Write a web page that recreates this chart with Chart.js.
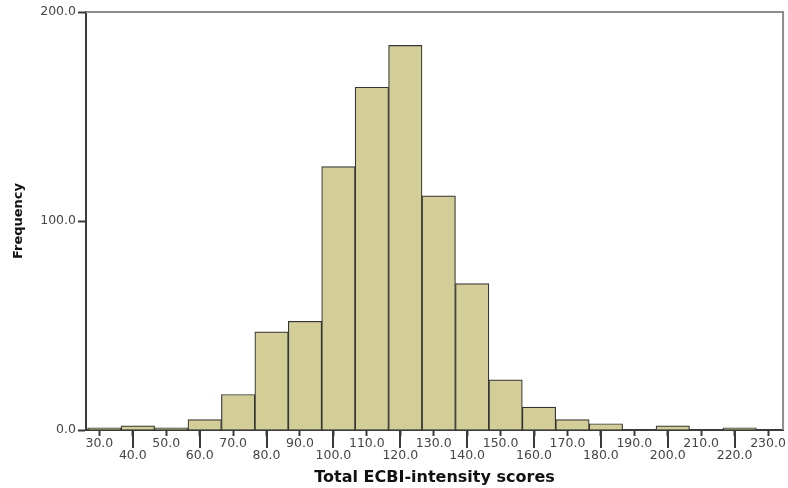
<!DOCTYPE html>
<html>
<head>
<meta charset="utf-8">
<script src="https://cdn.jsdelivr.net/npm/chart.js@4/dist/chart.umd.min.js"></script>
<style>
  html, body { margin: 0; padding: 0; background: #ffffff; }
  canvas { display: block; }
</style>
</head>
<body>
<canvas id="hist" width="788" height="488"></canvas>
<script>
// Histogram of total ECBI-intensity scores (bins of width 10)
const binCenters = [31.5, 41.5, 51.5, 61.5, 71.5, 81.5, 91.5, 101.5, 111.5, 121.5,
                    131.5, 141.5, 151.5, 161.5, 171.5, 181.5, 191.5, 201.5, 211.5, 221.5];
const frequencies = [1, 2, 1, 5, 17, 47, 52, 126, 164, 184,
                     112, 70, 24, 11, 5, 3, 0, 2, 0, 1];
const xTickValues = [30, 40, 50, 60, 70, 80, 90, 100, 110, 120, 130,
                     140, 150, 160, 170, 180, 190, 200, 210, 220, 230];
const yTickValues = [0, 100, 200];

const xTitle = 'Total ECBI-intensity scores';
const yTitle = 'Frequency';

const axisDark = '#3a3a3a';
const labelColor = '#454545';

// Frame on the top and right sides of the plot, plus the long
// tick marks for the staggered second row of x labels.
const framePlugin = {
  id: 'frame',
  afterDraw(chart) {
    const { ctx, chartArea } = chart;
    const xs = chart.scales.x;
    ctx.save();
    ctx.strokeStyle = '#8c8c8c';
    ctx.lineWidth = 2;
    ctx.beginPath();
    ctx.moveTo(chartArea.left, chartArea.top);
    ctx.lineTo(chartArea.right, chartArea.top);
    ctx.lineTo(chartArea.right, chartArea.bottom);
    ctx.stroke();

    ctx.strokeStyle = axisDark;
    ctx.lineWidth = 2;
    xs.ticks.forEach((t, i) => {
      if (i % 2 === 1) {
        const px = Math.round(xs.getPixelForValue(t.value));
        ctx.beginPath();
        ctx.moveTo(px, chartArea.bottom);
        ctx.lineTo(px, chartArea.bottom + 18);
        ctx.stroke();
      }
    });
    ctx.restore();
  }
};

new Chart(document.getElementById('hist'), {
  type: 'bar',
  data: {
    datasets: [{
      label: yTitle,
      data: binCenters.map((c, i) => ({ x: c, y: frequencies[i] })),
      backgroundColor: '#d3ce98',
      borderColor: '#353535',
      borderWidth: 1.2,
      barPercentage: 1.0,
      categoryPercentage: 1.0
    }]
  },
  options: {
    responsive: false,
    animation: false,
    devicePixelRatio: 1,
    layout: { padding: { top: 12, right: 3, left: 0, bottom: 0 } },
    plugins: {
      legend: { display: false },
      tooltip: { enabled: false }
    },
    scales: {
      x: {
        type: 'linear',
        min: 26,
        max: 234.5,
        offset: false,
        afterBuildTicks(scale) {
          scale.ticks = xTickValues.map(v => ({ value: v }));
        },
        afterFit(scale) { scale.height = 58; },
        grid: {
          offset: false,
          drawOnChartArea: false,
          drawTicks: true,
          tickLength: 6,
          tickWidth: 2,
          tickColor: axisDark
        },
        border: { display: true, color: axisDark, width: 2 },
        ticks: {
          autoSkip: false,
          maxRotation: 0,
          minRotation: 0,
          padding: 2,
          color: labelColor,
          font: { family: 'DejaVu Sans', size: 12.5, lineHeight: 0.95 },
          callback(value, index) {
            const s = Number(value).toFixed(1);
            return index % 2 === 0 ? s : ['', s];
          }
        },
        title: {
          display: true,
          text: xTitle,
          color: '#111111',
          padding: { top: 0, bottom: 1 },
          font: { family: 'DejaVu Sans', size: 16, weight: 'bold' }
        }
      },
      y: {
        min: 0,
        max: 200,
        afterBuildTicks(scale) {
          scale.ticks = yTickValues.map(v => ({ value: v }));
        },
        afterFit(scale) { scale.width = 86; },
        grid: {
          drawOnChartArea: false,
          drawTicks: true,
          tickLength: 8,
          tickWidth: 2,
          tickColor: axisDark
        },
        border: { display: true, color: axisDark, width: 2 },
        ticks: {
          padding: 2,
          color: labelColor,
          font: { family: 'DejaVu Sans', size: 12.5 },
          callback(value) { return Number(value).toFixed(1); }
        },
        title: {
          display: true,
          text: yTitle,
          color: '#111111',
          padding: { top: 11, bottom: 0 },
          font: { family: 'DejaVu Sans', size: 13, weight: 'bold' }
        }
      }
    }
  },
  plugins: [framePlugin]
});
</script>
</body>
</html>
